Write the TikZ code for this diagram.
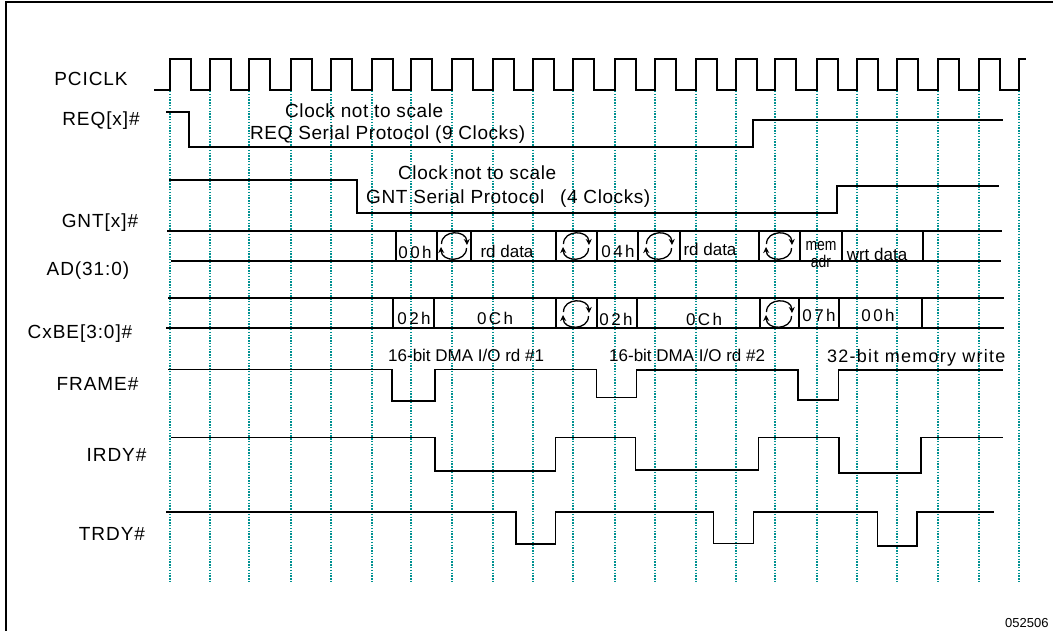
\documentclass[tikz,border=0pt]{standalone}
\usepackage{fontspec}
\setmainfont{Liberation Sans}
\newfontfamily\spacedA[LetterSpace=5]{Liberation Sans}
\newfontfamily\spacedB[LetterSpace=3]{Liberation Sans}
\newfontfamily\spacedC[LetterSpace=14]{Liberation Sans}
\newfontfamily\spacedD[LetterSpace=7]{Liberation Sans}
\usetikzlibrary{arrows.meta}
\definecolor{gridteal}{RGB}{0,145,145}
\tikzset{
  sig/.style={line width=1.6pt, line join=miter, line cap=rect},
  bus/.style={line width=1.5pt},
  gridline/.style={gridteal, line width=1.5pt, dash pattern=on 1.3pt off 1.5pt},
  signame/.style={inner sep=0pt, anchor=base, font=\spacedA\fontsize{19}{19}\selectfont},
  note/.style={inner sep=0pt, anchor=base west, font=\spacedB\fontsize{19}{19}\selectfont},
  busval/.style={inner sep=0pt, anchor=base, font=\spacedC\fontsize{17}{17}\selectfont},
  bustext/.style={inner sep=0pt, anchor=base, font=\fontsize{17}{17}\selectfont},
  smalltext/.style={inner sep=0pt, anchor=base, xscale=0.82, font=\fontsize{17}{17}\selectfont},
  txn/.style={inner sep=0pt, anchor=base west, font=\fontsize{17}{17}\selectfont},
  txnsp/.style={inner sep=0pt, anchor=base west, font=\spacedD\fontsize{18}{18}\selectfont},
  turnarrow/.style={line width=1.3pt, -{Stealth[length=6pt,width=6pt]}},
  turn/.pic={
    \draw[turnarrow] (-12.5,-2) .. controls (-12.5,-16.5) and (12.5,-16.5) .. (13,-1);
    \draw[turnarrow] (12.5,2) .. controls (12.5,16.5) and (-12.5,16.5) .. (-13,1);
  }
}
\begin{document}
\begin{tikzpicture}[x=1pt,y=-1pt]
\useasboundingbox (0,0) rectangle (1053,630);
% frame
\draw[line width=2pt] (6,640) -- (6,1.5) -- (1060,1.5);

% grid lines
\foreach \r in {170,210,249,291,331,372,411,452,493,533,573,615,655,696,736,775,817,857,897,938,979,1019}{
  \draw[gridline] (\r,91) -- (\r,582);
}

% clock
\draw[sig] (155,90)
\foreach \r in {170,210,249,291,331,372,411,452,493,533,573,615,655,696,736,775,817,857,897,938,979}{
  -- (\r,90) -- (\r,59) -- (\r+21,59) -- (\r+21,90)
} -- (1019,90) -- (1019,59) -- (1025,59);

% signal names
\node[signame] (nclk)   at (91,85)  {PCICLK};
\node[signame] (nreq)   at (101,125) {REQ[x]\#};
\node[signame] (ngnt)   at (100,227) {GNT[x]\#};
\node[signame] (nad)    at (88,275)  {AD(31:0)};
\node[signame] (ncbe)   at (80,338)  {CxBE[3:0]\#};
\node[signame] (nframe) at (97.5,390.5) {FRAME\#};
\node[signame] (nirdy)  at (116.5,461.5) {IRDY\#};
\node[signame] (ntrdy)  at (112,540) {TRDY\#};

% REQ
\draw[sig] (167,112) -- (189,112) -- (189,147) -- (753,147) -- (753,120) -- (1002,120);
\node[note] (reqa) at (285,117) {Clock not to scale};
\node[note] (reqb) at (250,139) {REQ Serial Protocol (9 Clocks)};

% GNT
\draw[sig] (170,180) -- (357,180) -- (357,213) -- (837,213) -- (837,186) -- (998,186);
\node[note] (gnta) at (398,179) {Clock not to scale};
\node[note] (gntb) at (366,203) {GNT Serial Protocol};
\node[note] (gntc) at (560,203) {(4 Clocks)};

% AD bus
\draw[bus] (167,231) -- (1002,231);
\draw[bus] (171,261) -- (1001,261);
\foreach \x in {396,437,471,556,597,638,680,759,800,842,923}{
  \draw[bus] (\x,231) -- (\x,261);
}
\node[busval]  (ad1) at (415,258) {00h};
\pic at (454,246) {turn};
\node[bustext] (ad2) at (507,257) {rd data};
\pic at (576,246) {turn};
\node[busval]  (ad3) at (618,257) {04h};
\pic at (659,246) {turn};
\node[bustext] (ad4) at (710,255) {rd data};
\pic at (779,246) {turn};
\node[smalltext] (ad5) at (821,250) {mem};
\node[smalltext] (ad6) at (821,267) {adr};
\node[bustext] (ad7) at (877,260) {wrt data};

% CxBE bus
\draw[bus] (168,298) -- (1004,298);
\draw[bus] (166,328) -- (1004,328);
\foreach \x in {393,434,556,597,637,760,799,839,922}{
  \draw[bus] (\x,298) -- (\x,328);
}
\node[busval] (cb1) at (414,324) {02h};
\node[busval] (cb2) at (495,324) {0Ch};
\pic at (576,314) {turn};
\node[busval] (cb3) at (616,325) {02h};
\node[busval] (cb4) at (704,325) {0Ch};
\pic at (779,314) {turn};
\node[busval] (cb5) at (819,321) {07h};
\node[busval] (cb6) at (878,321) {00h};

% transaction labels
\node[txn]   (t1) at (388,361) {16-bit DMA I/O rd \#1};
\node[txn]   (t2) at (609,361) {16-bit DMA I/O rd \#2};
\node[txnsp] (t3) at (827,362.5) {32-bit memory write};

% FRAME
\draw[sig] (169,369.5) -- (392,369.5) -- (392,401) -- (435,401) -- (435,369.5) -- (596.5,369.5) -- (596.5,397.5) -- (636.5,397.5) -- (636.5,370) -- (798,370) -- (798,400) -- (838.5,400) -- (838.5,370) -- (1002.5,370);

% IRDY
\draw[sig] (172,437.5) -- (435,437.5) -- (435,471) -- (555.5,471) -- (555.5,437.5) -- (635.5,437.5) -- (635.5,470) -- (758.5,470) -- (758.5,437.5) -- (839,437.5) -- (839,473) -- (921,473) -- (921,437.5) -- (1002,437.5);

% TRDY
\draw[sig] (167,512) -- (516,512) -- (516,544) -- (555.5,544) -- (555.5,512) -- (713.5,512) -- (713.5,543.5) -- (753.5,543.5) -- (753.5,512) -- (877.5,512) -- (877.5,546) -- (917,546) -- (917,512) -- (993.5,512);

% figure number
\node[inner sep=0pt, anchor=base west, font=\fontsize{13}{13}\selectfont] (fig) at (1005,627) {052506};
\end{tikzpicture}
\end{document}
